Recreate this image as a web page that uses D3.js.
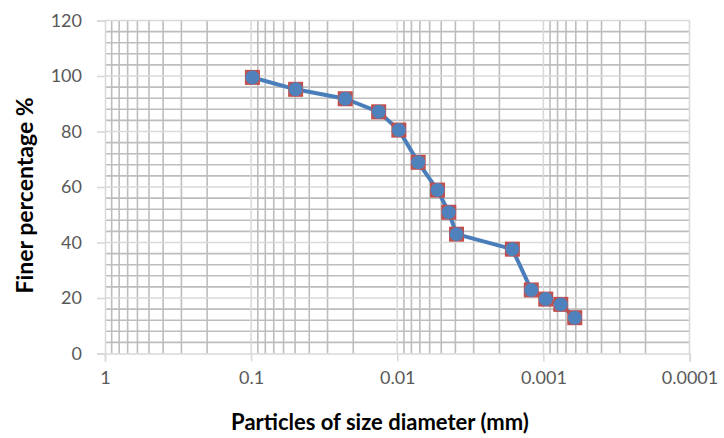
<!DOCTYPE html>
<meta charset="utf-8">
<style>
  body { margin: 0; background: #fff; }
  text { font-family: Lato, "Open Sans", sans-serif; }
</style>
<body>
<div id="chart"></div>
<script src="https://cdn.jsdelivr.net/npm/d3@7"></script>
<script>

// Data
var diameters = [0.098, 0.0496, 0.0227, 0.0134, 0.00975, 0.00719, 0.0053, 0.00444, 0.00393, 0.00163, 0.00121, 0.000963, 0.00076, 0.00061];
var finer = [99.5, 95.2, 91.8, 87.1, 80.5, 68.9, 58.9, 50.9, 43.0, 37.6, 22.9, 19.6, 17.7, 12.9];
var xTicks = [1, 0.1, 0.01, 0.001, 0.0001];
var yTicks = [0, 20, 40, 60, 80, 100, 120];

var width = 724, height = 438;
var margin = {top: 20.5, right: 34.5, bottom: 84.5, left: 105};
var w = width - margin.left - margin.right,
    h = height - margin.top - margin.bottom;

var x = d3.scaleLog().domain([1, 0.0001]).range([0, w]);
var y = d3.scaleLinear().domain([0, 120]).range([h, 0]);

var svg = d3.select("#chart").append("svg")
    .attr("width", width)
    .attr("height", height)
  .append("g")
    .attr("transform", "translate(" + margin.left + "," + margin.top + ")");

// minor grid
var minorX = [];
for (var e = 0; e > -4; e--) {
  for (var k = 2; k <= 9; k++) minorX.push(k * Math.pow(10, e - 1));
}
var minorY = d3.range(0, 121, 4).filter(function(v) { return v % 20 != 0; });

svg.append("g").selectAll("line")
    .data(minorY).enter().append("line")
    .attr("x1", 0).attr("x2", w)
    .attr("y1", function(d) { return y(d); })
    .attr("y2", function(d) { return y(d); })
    .attr("stroke", "#bdbdbd").attr("stroke-width", 1.6);

svg.append("g").selectAll("line")
    .data(minorX).enter().append("line")
    .attr("y1", 0).attr("y2", h)
    .attr("x1", function(d) { return x(d); })
    .attr("x2", function(d) { return x(d); })
    .attr("stroke", "#bdbdbd").attr("stroke-width", 1.6);

// major grid
svg.append("g").selectAll("line")
    .data(yTicks.slice(1)).enter().append("line")
    .attr("x1", 0).attr("x2", w)
    .attr("y1", function(d) { return y(d); })
    .attr("y2", function(d) { return y(d); })
    .attr("stroke", "#d9d9d9").attr("stroke-width", 1.6);

svg.append("g").selectAll("line")
    .data(xTicks.slice(1)).enter().append("line")
    .attr("y1", 0).attr("y2", h)
    .attr("x1", function(d) { return x(d); })
    .attr("x2", function(d) { return x(d); })
    .attr("stroke", "#d9d9d9").attr("stroke-width", 1.6);

// axes
var xAxis = svg.append("g")
    .attr("transform", "translate(0," + h + ")")
    .call(d3.axisBottom(x).tickValues(xTicks).tickFormat(function(d) { return String(+d.toFixed(4)); })
      .tickSize(8).tickPadding(10));

var yAxis = svg.append("g")
    .call(d3.axisLeft(y).tickValues(yTicks).tickSize(8).tickPadding(15));

[xAxis, yAxis].forEach(function(a) {
  a.select(".domain").attr("stroke", "#d9d9d9").attr("stroke-width", 1.6);
  a.selectAll(".tick line").attr("stroke", "#d9d9d9").attr("stroke-width", 1.6);
  a.selectAll(".tick text")
      .attr("fill", "#595959")
      .style("font-size", "18px")
      .style("font-family", "Lato, 'Open Sans', sans-serif");
});

// series
var pts = diameters.map(function(d, i) { return {d: d, v: finer[i]}; });

svg.append("path")
    .datum(pts)
    .attr("fill", "none")
    .attr("stroke", "#4a7ebb")
    .attr("stroke-width", 4)
    .attr("stroke-linejoin", "round")
    .attr("d", d3.line()
      .x(function(p) { return x(p.d); })
      .y(function(p) { return y(p.v); }));

svg.append("g").selectAll("rect")
    .data(pts).enter().append("rect")
    .attr("x", function(p) { return x(p.d) - 7.5; })
    .attr("y", function(p) { return y(p.v) - 7.5; })
    .attr("width", 15).attr("height", 15)
    .attr("fill", "#c0504d");

svg.append("g").selectAll("circle")
    .data(pts).enter().append("circle")
    .attr("cx", function(p) { return x(p.d); })
    .attr("cy", function(p) { return y(p.v); })
    .attr("r", 7)
    .attr("fill", "#4f81bd");

// titles
svg.append("text")
    .attr("x", 380 - margin.left)
    .attr("y", 430 - margin.top)
    .attr("text-anchor", "middle")
    .style("font-size", "22px")
    .style("font-weight", "bold")
    .attr("fill", "#000")
    .text("Particles of size diameter (mm)");

svg.append("text")
    .attr("transform", "translate(" + (33 - margin.left) + "," + (195.5 - margin.top) + ") rotate(-90)")
    .attr("text-anchor", "middle")
    .style("font-size", "23px")
    .style("font-weight", "bold")
    .attr("fill", "#000")
    .text("Finer percentage %");

</script>
</body>
